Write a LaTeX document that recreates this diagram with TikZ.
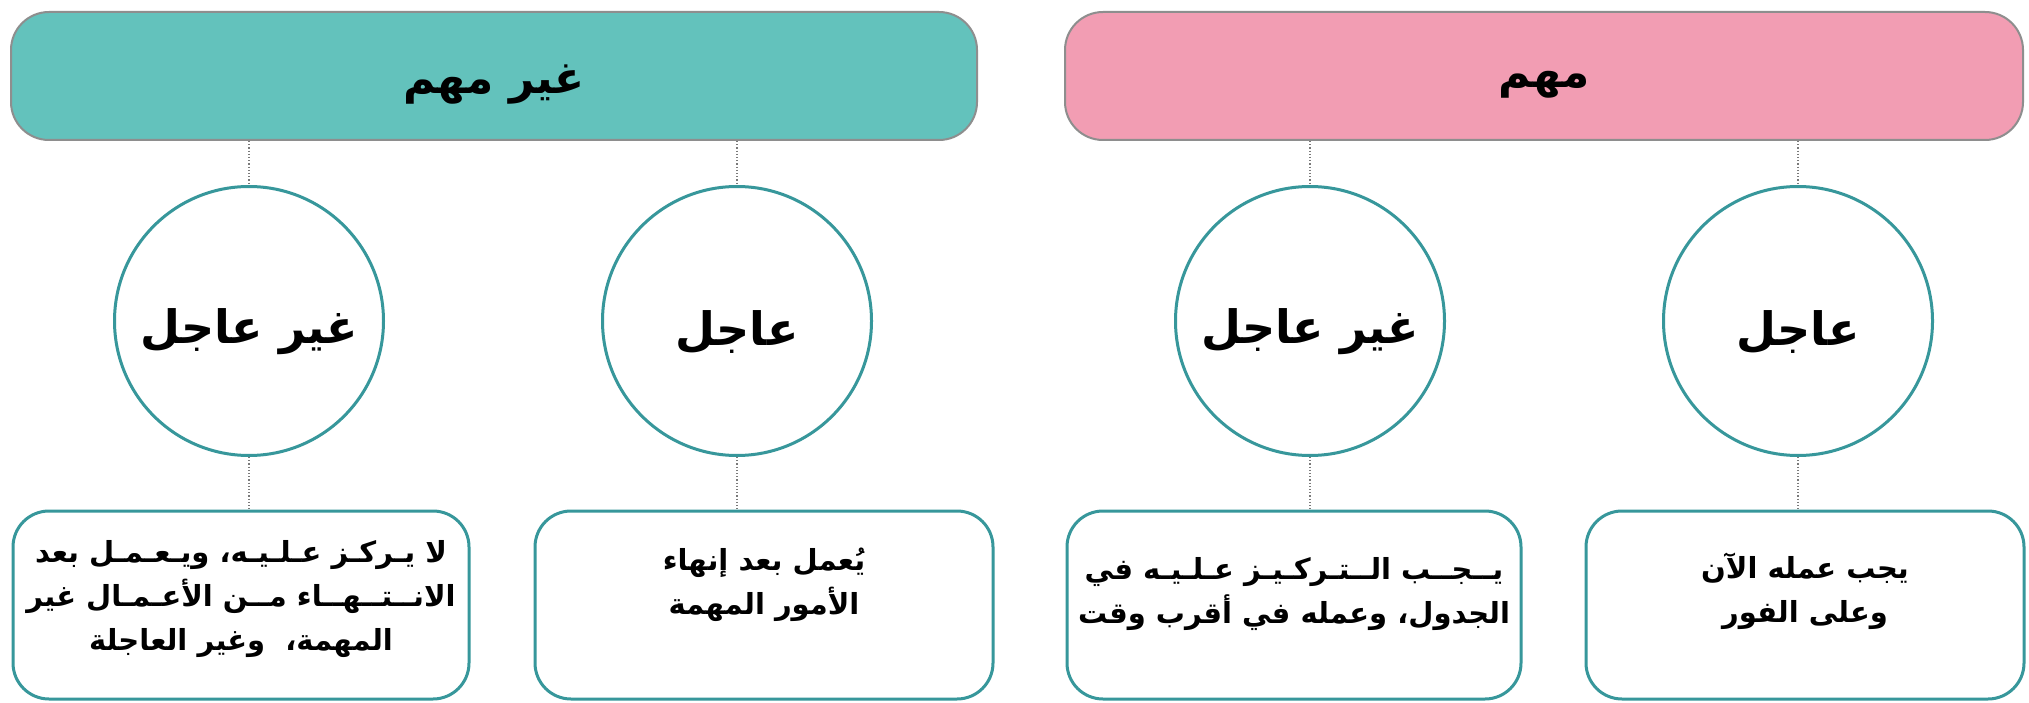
\documentclass[tikz,border=0pt]{standalone}
\usepackage{fontspec}
\newfontfamily\arabicfont[Script=Arabic]{DejaVu Sans}
\TeXXeTstate=1
\newcommand{\artxt}[1]{\beginR #1\endR}
\definecolor{tealfill}{HTML}{63C2BC}
\definecolor{pinkfill}{HTML}{F29DB3}
\definecolor{hdrline}{HTML}{8E8E8E}
\definecolor{tealline}{HTML}{37979B}
\definecolor{dotline}{HTML}{7A7A7A}
\begin{document}
\begin{tikzpicture}[x=1pt,y=-1pt,
  hdr/.style={draw=hdrline, line width=2pt, rounded corners=38pt, minimum height=128pt, inner sep=0pt,
    font=\arabicfont\bfseries\fontsize{44}{50}\selectfont},
  circ/.style={circle, draw=tealline, line width=3pt, fill=white, minimum size=269pt, inner sep=0pt,
    font=\arabicfont\bfseries\fontsize{46}{52}\selectfont},
  boxx/.style={draw=tealline, line width=3pt, rounded corners=36pt, fill=white, minimum height=188pt, inner sep=0pt},
  btxt/.style={align=center, inner sep=0pt, font=\arabicfont\bfseries\fontsize{29}{44}\selectfont},
  conn/.style={draw=dotline, line width=1.2pt, dotted}]
\useasboundingbox (0,0) rectangle (2029,703);
\fill[white] (0,0) rectangle (2029,703);
% headers
\node[hdr, fill=tealfill, minimum width=966pt] (hdrL) at (494,76) {\raisebox{-9pt}[\height][\depth]{\beginR غير مهم\endR}};
\node[hdr, fill=pinkfill, minimum width=958pt] (hdrR) at (1544,76) {\raisebox{-9pt}[\height][\depth]{\beginR مهم\endR}};
% circles
\node[circ] (c1) at (249,321) {\raisebox{-11pt}[\height][\depth]{\beginR غير عاجل\endR}};
\node[circ] (c2) at (737,321) {\raisebox{-11pt}[\height][\depth]{\beginR عاجل\endR}};
\node[circ] (c3) at (1310,321) {\raisebox{-11pt}[\height][\depth]{\beginR غير عاجل\endR}};
\node[circ] (c4) at (1798,321) {\raisebox{-11pt}[\height][\depth]{\beginR عاجل\endR}};
% boxes
\node[boxx, minimum width=456pt] (b1) at (241,605) {};
\node[boxx, minimum width=458pt] (b2) at (764,605) {};
\node[boxx, minimum width=454pt] (b3) at (1294,605) {};
\node[boxx, minimum width=438pt] (b4) at (1805,605) {};
\node[btxt] (t1) at ([yshift=6pt]b1.center) {\artxt{لا يـركـز عـلـيـه، ويـعـمـل بعد}\\\artxt{الانــتــهــاء مــن الأعـمـال غير}\\\artxt{المهمة،\ \ وغير العاجلة}};
\node[btxt] (t2) at ([yshift=20pt]b2.center) {\artxt{يُعمل بعد إنهاء}\\\artxt{الأمور المهمة}};
\node[btxt] (t3) at ([yshift=11pt]b3.center) {\artxt{يــجــب الــتـركـيـز عـلـيـه في}\\\artxt{الجدول، وعمله في أقرب وقت}};
\node[btxt] (t4) at ([yshift=14pt]b4.center) {\artxt{يجب عمله الآن}\\\artxt{وعلى الفور}};
% connectors
\draw[conn] (hdrL.south -| c1.north) -- (c1.north);
\draw[conn] (hdrL.south -| c2.north) -- (c2.north);
\draw[conn] (hdrR.south -| c3.north) -- (c3.north);
\draw[conn] (hdrR.south -| c4.north) -- (c4.north);
\draw[conn] (c1.south) -- (b1.north -| c1.south);
\draw[conn] (c2.south) -- (b2.north -| c2.south);
\draw[conn] (c3.south) -- (b3.north -| c3.south);
\draw[conn] (c4.south) -- (b4.north -| c4.south);
\end{tikzpicture}
\end{document}
